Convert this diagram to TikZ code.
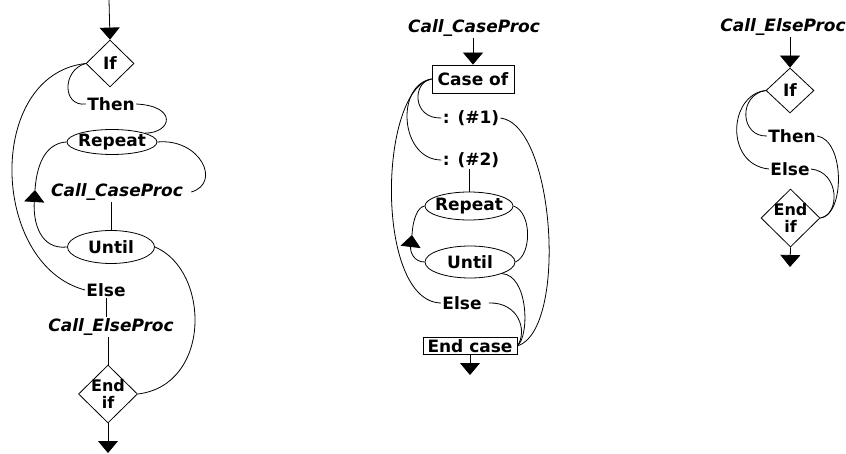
\documentclass[tikz,border=0pt]{standalone}
\usepackage{fontspec}
\setmainfont{DejaVu Sans}
\usetikzlibrary{shapes.geometric,arrows.meta}
\begin{document}
\begin{tikzpicture}[x=1pt,y=-1pt,line width=0.8pt,
  lbl/.style={inner sep=1pt,font=\fontsize{17}{14}\selectfont\bfseries},
  ilbl/.style={inner sep=1pt,font=\fontsize{17}{14}\selectfont\bfseries\itshape},
  twol/.style={inner sep=0pt,align=center,font=\fontsize{16}{17}\selectfont\bfseries},
  dia/.style={diamond,draw,inner sep=0pt},
  ell/.style={ellipse,draw,inner sep=0pt},
  boxn/.style={rectangle,draw,inner sep=0pt,font=\fontsize{17}{14}\selectfont\bfseries},
  arr/.style={-{Triangle[length=12pt,width=20pt]}}]
\useasboundingbox (0,0) rectangle (846,454);

% ---------- left ----------
\coordinate (ltop) at (109,0);
\node[dia,minimum width=48pt,minimum height=47pt] (if1) at (110,63.5) {};
\node[lbl] (if1t) at (if1) {If};
\node[lbl] (then1) at (111,104) {Then};
\node[ell,minimum width=90pt,minimum height=25pt] (rep1) at (112,142) {};
\node[lbl] (rep1t) at (rep1) {Repeat};
\node[ilbl,inner xsep=8pt] (callcase1) at (117,192) {Call\_CaseProc};
\node[ell,minimum width=87pt,minimum height=33pt] (until1) at (111,247) {};
\node[lbl] (until1t) at (until1) {Until};
\node[lbl] (else1) at (106,290) {Else};
\node[ilbl] (callelse1) at (111,327) {Call\_ElseProc};
\node[dia,minimum width=59pt,minimum height=58pt] (endif1) at (108,394) {};
\node[twol] (endif1t) at (endif1) {End\\if};
\coordinate (a1) at (35,190);
\coordinate (lbot) at (108,453);

\draw[arr] (ltop) -- (if1.north);
\draw (if1.west) .. controls (62,70) and (62,107) .. (then1.west);
\draw (if1.west) .. controls (-15,75) and (-10,265) .. (else1.west);
\draw (then1.east) .. controls (178,106) and (172,133) .. (rep1.15);
\draw (rep1.east) .. controls (200,138) and (222,183) .. (callcase1.east);
\draw (until1.north |- callcase1.south) -- (until1.north);
\draw[arr] (until1.west) .. controls (40,250) and (33,222) .. (a1);
\draw (a1) .. controls (37,160) and (48,143) .. (rep1.west);
\draw (until1.east) .. controls (210,270) and (212,385) .. (endif1.east);
\draw (else1.south) -- (else1.south |- callelse1.north);
\draw (endif1.north |- callelse1.south) -- (endif1.north);
\draw[arr] (endif1.south) -- (lbot);

% ---------- middle ----------
\node[ilbl] (callcase2) at (474,28) {Call\_CaseProc};
\node[boxn,minimum width=82pt,minimum height=28pt] (caseof) at (473,79) {Case of};
\node[lbl] (c1) at (471,118) {: (\#1)};
\node[lbl] (c2) at (471,160) {: (\#2)};
\node[ell,minimum width=88pt,minimum height=28pt] (rep2) at (469,206) {};
\node[lbl] (rep2t) at (rep2) {Repeat};
\node[ell,minimum width=90pt,minimum height=32pt] (until2) at (470,262) {};
\node[lbl] (until2t) at (until2) {Until};
\node[lbl] (else2) at (462,303) {Else};
\node[boxn,minimum width=94pt,minimum height=17pt] (endcase) at (470,346) {End case};
\coordinate (a2) at (412,235);
\coordinate (mbot) at (470,375);

\draw[arr] (callcase2.south -| caseof.north) -- (caseof.north);
\draw (caseof.west) .. controls (412,82) and (412,119) .. (c1.west);
\draw (caseof.west) .. controls (395,85) and (400,160) .. (c2.west);
\draw (caseof.west) .. controls (378,90) and (375,302) .. (else2.west);
\draw (rep2.north |- c2.south) -- (rep2.north);
\draw (c1.east) .. controls (555,125) and (568,330) .. (endcase.east);
\draw (rep2.east) .. controls (532,212) and (532,255) .. (until2.east);
\draw[arr] (until2.west) .. controls (414,262) and (410,252) .. (a2);
\draw (a2) .. controls (413,218) and (418,207) .. (rep2.west);
\draw (until2.-20) .. controls (528,275) and (530,335) .. (endcase.east);
\draw ([xshift=6pt]else2.east) .. controls (518,302) and (528,330) .. (endcase.east);
\draw[arr] (endcase.south) -- (mbot);

% ---------- right ----------
\node[ilbl] (callelse2) at (783,27) {Call\_ElseProc};
\node[dia,minimum width=48pt,minimum height=45pt] (if2) at (790,90.5) {};
\node[lbl] (if2t) at (if2) {If};
\node[lbl] (then2) at (792,136) {Then};
\node[lbl] (else3) at (790,169) {Else};
\node[dia,minimum width=59pt,minimum height=58pt] (endif2) at (790.5,218) {};
\node[twol] (endif2t) at (endif2) {End\\if};
\coordinate (rbot) at (790,267);

\draw[arr] (callelse2.south -| if2.north) -- (if2.north);
\draw (if2.west) .. controls (738,95) and (740,137) .. (then2.west);
\draw (if2.west) .. controls (728,95) and (725,165) .. (else3.west);
\draw (then2.east) .. controls (845,140) and (845,215) .. (endif2.east);
\draw (else3.east) .. controls (840,172) and (840,215) .. (endif2.east);
\draw[arr] (endif2.south) -- (rbot);
\end{tikzpicture}
\end{document}
